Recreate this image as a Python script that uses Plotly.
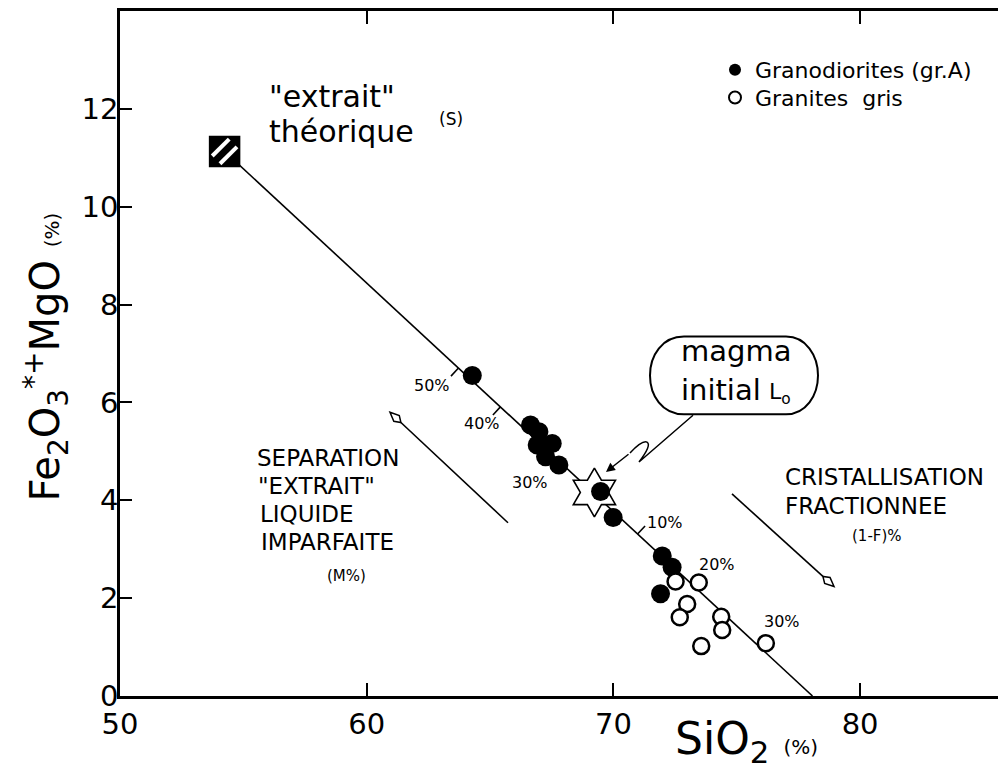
import math
import numpy as np
import plotly.graph_objects as go

FONT = "DejaVu Sans"

# ---------------- data ----------------
gd_sio2 = [64.28, 66.64, 66.98, 67.52, 66.91, 67.25, 67.79, 69.48, 69.99, 71.98, 72.38, 71.91]
gd_fem = [6.55, 5.54, 5.40, 5.16, 5.13, 4.89, 4.72, 4.18, 3.65, 2.86, 2.63, 2.09]

gg_sio2 = [72.52, 73.46, 72.99, 72.69, 74.37, 74.41, 73.56, 76.18]
gg_fem = [2.34, 2.32, 1.88, 1.61, 1.62, 1.35, 1.02, 1.08]

extrait_sio2 = [54.24]
extrait_fem = [11.13]

magma_sio2 = [69.23]
magma_fem = [4.16]

mix_sio2 = [54.24, 78.07]
mix_fem = [11.13, 0.0]

sep_tick_sio2 = [63.72, 65.42, 67.37]
sep_tick_labels = ["50%", "40%", "30%"]
cf_tick_sio2 = [70.98, 73.41, 75.97]
cf_tick_labels = ["10%", "20%", "30%"]

x_tickvals = [50, 60, 70, 80]
y_tickvals = [0, 2, 4, 6, 8, 10, 12]

# ---------------- layout geometry ----------------
OFF = 8                      # page body margin
W, H = 1006 - OFF, 774 - OFF
ML, MT = 120, 8              # plot-area origin in page pixels
PW, PH = 886, 688
X_RANGE = [50, 50 + PW / 24.67]
Y_RANGE = [0, 14]
KX = PW / (X_RANGE[1] - X_RANGE[0])
KY = PH / (Y_RANGE[1] - Y_RANGE[0])


def X(px):
    return X_RANGE[0] + (px - ML) / KX


def Y(py):
    return Y_RANGE[1] - (py - MT) / KY


def PX(px):
    return (px - ML) / PW


def PY(py):
    return 1 - (py - MT) / PH


def path(cmds):
    out = []
    for c, pts in cmds:
        out.append(c + " ".join(f"{X(a):.4f},{Y(b):.4f}" for a, b in pts))
    return " ".join(out)


fig = go.Figure()

# mixing line
fig.add_trace(go.Scatter(x=mix_sio2, y=mix_fem, mode="lines",
                         line=dict(color="black", width=1.6), showlegend=False, hoverinfo="skip"))
# initial magma star
fig.add_trace(go.Scatter(x=magma_sio2, y=magma_fem, mode="markers",
                         marker=dict(symbol="hexagram", size=37, color="white",
                                     line=dict(color="black", width=1.6)),
                         showlegend=False, hoverinfo="skip"))
# theoretical extract square
fig.add_trace(go.Scatter(x=extrait_sio2, y=extrait_fem, mode="markers",
                         marker=dict(symbol="square", size=30, color="black",
                                     line=dict(color="black", width=1.5)),
                         showlegend=False, hoverinfo="skip"))
# granodiorites
fig.add_trace(go.Scatter(x=gd_sio2, y=gd_fem, mode="markers", name="Granodiorites (gr.A)",
                         legend="legend",
                         marker=dict(symbol="circle", size=19, color="black",
                                     line=dict(color="black", width=0))))
# granites gris
fig.add_trace(go.Scatter(x=gg_sio2, y=gg_fem, mode="markers", name="Granites  gris",
                         legend="legend2",
                         marker=dict(symbol="circle", size=16, color="white",
                                     line=dict(color="black", width=2.5))))

shapes = []

# ticks on the mixing line
sx = (mix_sio2[1] - mix_sio2[0]) * KX
sy = -(mix_fem[1] - mix_fem[0]) * KY
L = math.hypot(sx, sy)
ux, uy = sx / L, sy / L
nx, ny = uy, -ux  # screen perpendicular pointing up-right
TL = 11
for vals, sgn in ((sep_tick_sio2, -1), (cf_tick_sio2, 1)):
    for s in vals:
        y0 = float(np.interp(s, mix_sio2, mix_fem))
        shapes.append(dict(type="line", xref="x", yref="y", x0=s, y0=y0,
                           x1=s + sgn * TL * nx / KX, y1=y0 - sgn * TL * ny / KY,
                           line=dict(color="black", width=1.6), layer="below"))

# hatching of the square
cx_px = ML + (extrait_sio2[0] - X_RANGE[0]) * KX
cy_px = MT + (Y_RANGE[1] - extrait_fem[0]) * KY
for off in (-5.5, 5.5):
    ox, oy = off * 0.7071, off * 0.7071
    hl = 12
    shapes.append(dict(type="line", xref="x", yref="y",
                       x0=X(cx_px + ox - hl * 0.7071), y0=Y(cy_px + oy + hl * 0.7071),
                       x1=X(cx_px + ox + hl * 0.7071), y1=Y(cy_px + oy - hl * 0.7071),
                       line=dict(color="white", width=4), layer="above"))


def arrow(tail, tip, hl=15, hw=4):
    dxp, dyp = tip[0] - tail[0], tip[1] - tail[1]
    ln = math.hypot(dxp, dyp)
    ax_, ay_ = dxp / ln, dyp / ln
    px_, py_ = -ay_, ax_
    back = (tip[0] - hl * ax_, tip[1] - hl * ay_)
    mid = (tip[0] - 0.6 * hl * ax_, tip[1] - 0.6 * hl * ay_)
    left = (mid[0] + hw * px_, mid[1] + hw * py_)
    right = (mid[0] - hw * px_, mid[1] - hw * py_)
    shapes.append(dict(type="line", xref="x", yref="y", x0=X(tail[0]), y0=Y(tail[1]),
                       x1=X(back[0]), y1=Y(back[1]), line=dict(color="black", width=1.6)))
    shapes.append(dict(type="path", xref="x", yref="y",
                       path=path([("M", [tip]), ("L", [left]), ("L", [back]), ("L", [right])]) + " Z",
                       line=dict(color="black", width=1.5), fillcolor="white"))


arrow((508, 522), (390, 411))
arrow((732, 493), (834, 586))

# rounded box "magma initial"
shapes.append(dict(type="path", xref="x", yref="y", line=dict(color="black", width=2),
                   fillcolor="rgba(0,0,0,0)",
                   path=path([("M", [(684, 335)]), ("L", [(786, 335)]),
                              ("C", [(806, 335), (818, 354), (818, 374)]),
                              ("C", [(818, 394), (806, 413), (786, 413)]),
                              ("L", [(684, 413)]),
                              ("C", [(662, 413), (650, 394), (650, 374)]),
                              ("C", [(650, 354), (662, 335), (684, 335)])]) + " Z"))
# squiggle from box to star
shapes.append(dict(type="path", xref="x", yref="y", line=dict(color="black", width=1.5),
                   path=path([("M", [(693, 414)]), ("L", [(639, 461)]),
                              ("Q", [(652, 444), (647, 441)]),
                              ("Q", [(642, 439), (630, 452)])])))

annotations = []


def txt(t, px, baseline, size, anchor="left", **kw):
    annotations.append(dict(text=t, x=PX(px), y=PY(baseline - 0.36 * size), xref="paper", yref="paper",
                            xanchor=anchor, yanchor="middle", showarrow=False,
                            font=dict(family=FONT, size=size, color="black"), **kw))


annotations.append(dict(x=X(606), y=Y(471), ax=X(630), ay=Y(452), axref="x", ayref="y",
                        xref="x", yref="y", text="", showarrow=True, arrowhead=2,
                        arrowsize=1.2, arrowwidth=1.5, arrowcolor="black"))

txt("\"extrait\"", 267, 105, 30)
txt("théorique", 267, 140, 30)
txt("(S)", 437, 123, 17)

for t, x0, b in (("SEPARATION", 255, 465), ("\"EXTRAIT\"", 256, 493), ("LIQUIDE", 258, 521),
                 ("IMPARFAITE", 259, 550)):
    txt(t, x0, b, 23)
txt("(M%)", 325, 581, 15)

for t, x0, b in (("CRISTALLISATION", 783, 484), ("FRACTIONNEE", 783, 513)):
    txt(t, x0, b, 23)
txt("(1-F)%", 850, 541, 15)

txt("magma", 679, 360, 29)
txt("initial", 679, 399, 29)
txt("L<sub>o</sub>", 767, 400, 22)

for t, cx, b in zip(sep_tick_labels + cf_tick_labels,
                    [432, 482, 530, 665, 717, 782], [390, 428, 487, 528, 570, 627]):
    txt(t, cx, b, 16, anchor="center")

# axis titles
annotations.append(dict(text="SiO<sub>2</sub> <span style='font-size:20px'>(%)</span>",
                        x=PX(746), y=PY(742), xref="paper", yref="paper", xanchor="center",
                        yanchor="middle", showarrow=False, font=dict(family=FONT, size=44, color="black")))
annotations.append(dict(text="Fe<sub>2</sub>O<sub>3</sub><sup>*</sup><sup>+</sup>MgO <span style='font-size:20px'>(%)</span>",
                        x=PX(46), y=PY(356), xref="paper", yref="paper",
                        xanchor="center", yanchor="middle", textangle=-90,
                        showarrow=False, font=dict(family=FONT, size=40, color="black")))

legend_common = dict(xanchor="left", yanchor="top", bgcolor="rgba(0,0,0,0)", borderwidth=0,
                     itemsizing="constant", font=dict(family=FONT, size=22, color="black"))

fig.update_layout(
    width=W, height=H,
    margin=dict(l=ML - OFF, r=W - (ML - OFF) - PW, t=MT - OFF, b=H - (MT - OFF) - PH, pad=0),
    paper_bgcolor="white", plot_bgcolor="white",
    font=dict(family=FONT, color="black"),
    showlegend=True,
    legend=dict(x=PX(715), y=PY(46), **legend_common),
    legend2=dict(x=PX(715), y=PY(74), **legend_common),
    xaxis=dict(range=X_RANGE, tickvals=x_tickvals, ticks="inside", ticklen=13, tickwidth=2,
               tickcolor="black", showline=True, linewidth=2.5, linecolor="black", mirror="ticks",
               showgrid=False, zeroline=False, tickfont=dict(family=FONT, size=29, color="black")),
    yaxis=dict(range=Y_RANGE, tickvals=y_tickvals, ticks="inside", ticklen=12, tickwidth=2,
               tickcolor="black", showline=True, linewidth=2.5, linecolor="black", mirror=False,
               showgrid=False, zeroline=False, ticklabelstandoff=-7,
               tickfont=dict(family=FONT, size=29, color="black")),
    yaxis2=dict(range=Y_RANGE, tickvals=y_tickvals, ticks="inside", ticklen=10, tickwidth=2,
                tickcolor="black", showline=False, showticklabels=False, overlaying="y",
                side="right", showgrid=False, zeroline=False),
    shapes=shapes,
    annotations=annotations,
)

fig.write_html("out.html")
